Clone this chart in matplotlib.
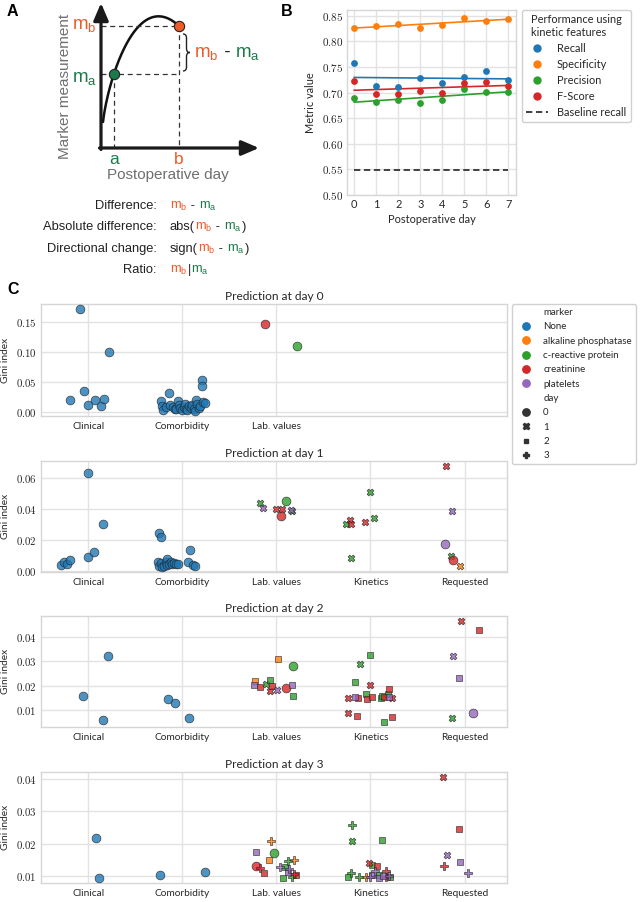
import numpy as np
import matplotlib
matplotlib.use("Agg")
import matplotlib.pyplot as plt
from matplotlib.lines import Line2D
from matplotlib.path import Path
from matplotlib.patches import PathPatch
from matplotlib.ticker import FuncFormatter, MultipleLocator

plt.rcParams["mathtext.fontset"] = "cm"
plt.rcParams["font.family"] = ["Lato", "DejaVu Sans"]

# ---------------- panel B data ----------------
post_days = [0, 1, 2, 3, 4, 5, 6, 7]
recall = [0.758, 0.712, 0.710, 0.729, 0.718, 0.731, 0.741, 0.725]
specificity = [0.826, 0.830, 0.834, 0.825, 0.832, 0.846, 0.839, 0.843]
precision = [0.690, 0.681, 0.686, 0.679, 0.686, 0.706, 0.701, 0.701]
f_score = [0.723, 0.697, 0.697, 0.703, 0.700, 0.719, 0.721, 0.713]
baseline_recall = 0.548

# ---------------- panel C data ----------------
categories = ["Clinical", "Comorbidity", "Lab. values", "Kinetics", "Requested"]
cat_code = {"c": 0, "m": 1, "l": 2, "k": 3, "r": 4}
marker_names = ["None", "alkaline phosphatase", "c-reactive protein",
                "creatinine", "platelets"]
marker_code = {"N": 0, "A": 1, "C": 2, "R": 3, "P": 4}
day_levels = [0, 1, 2, 3]

# code = category letter + marker letter + day of the measurement
p0_code = ["cN0"] * 8 + ["mN0"] * 30 + ["lR0", "lC0"]
p0_gini = [0.171, 0.100, 0.0197, 0.036, 0.0118, 0.0202, 0.0107, 0.0225,
           0.018, 0.0107, 0.0034, 0.009, 0.032, 0.0124, 0.0079, 0.0051, 0.0051, 0.018,
           0.0112, 0.0062, 0.0034, 0.0079, 0.0135, 0.0056, 0.0034, 0.0096, 0.0062, 0.0118,
           0.0056, 0.0022, 0.0197, 0.0135, 0.0062, 0.0107, 0.0528, 0.0427, 0.0163, 0.0146,
           0.1455, 0.1096]
p0_jit = [-0.085, 0.220, -0.195, -0.042, 0.000, 0.078, 0.142, 0.170,
          -0.223, -0.220, -0.202, -0.170, -0.142, -0.131, -0.103, -0.081, -0.064, -0.046,
          -0.035, -0.025, -0.007, 0.014, 0.028, 0.042, 0.053, 0.071, 0.089, 0.106,
          0.120, 0.135, 0.142, 0.159, 0.177, 0.191, 0.212, 0.212, 0.223, 0.241,
          -0.124, 0.220]

p1_code = (["cN0"] * 8 + ["mN0"] * 20
           + ["lC1", "lP1", "lR1", "lR1", "lR0", "lC0", "lP1", "lC1"]
           + ["kC1", "kC1", "kR1", "kR1", "kC1", "kR1", "kC1"]
           + ["rR1", "rP1", "rP0", "rC1", "rR0", "rA1"])
p1_gini = [0.0039, 0.006, 0.0047, 0.0069, 0.063, 0.0088, 0.0122, 0.0302,
           0.0244, 0.0221, 0.0137, 0.0056, 0.0039, 0.003, 0.0058, 0.003, 0.0051, 0.0026,
           0.0034, 0.0056, 0.0077, 0.0036, 0.0047, 0.0058, 0.0043, 0.0051, 0.0043, 0.0047,
           0.0439, 0.0407, 0.0401, 0.0401, 0.0356, 0.0448, 0.039, 0.0386,
           0.0508, 0.0343, 0.0328, 0.030, 0.030, 0.0315, 0.0081,
           0.0675, 0.0386, 0.0176, 0.0096, 0.0071, 0.003]
p1_jit = [-0.290, -0.259, -0.223, -0.195, 0.004, -0.004, 0.060, 0.156,
          -0.251, -0.223, 0.078, 0.057, 0.110, 0.135, -0.262, -0.248, -0.230, -0.220,
          -0.195, -0.177, -0.159, -0.159, -0.142, -0.120, -0.106, -0.089, -0.071, -0.050,
          -0.170, -0.145, -0.007, 0.057, 0.046, 0.106, 0.156, 0.166,
          -0.004, 0.032, -0.220, -0.209, -0.255, -0.060, -0.202,
          -0.195, -0.138, -0.212, -0.145, -0.127, -0.053]

p2_code = (["cN0"] * 3 + ["mN0"] * 3
           + ["lA2", "lP2", "lR2", "lC1", "lC2", "lA2", "lR1", "lR2", "lP1", "lR0",
              "lC0", "lP2", "lC2"]
           + ["kC2", "kC1", "kC2", "kR1", "kR2", "kR1", "kP2", "kR2", "kC2", "kR2",
              "kR2", "kC2", "kC2", "kR2", "kC2", "kP2", "kR1", "kR1", "kR2", "kC2", "kR2"]
           + ["rR1", "rR2", "rP1", "rP2", "rC1", "rP0"])
p2_gini = [0.0159, 0.032, 0.0062,
           0.0146, 0.013, 0.007,
           0.022, 0.0204, 0.0197, 0.0209, 0.0223, 0.0309, 0.0178, 0.020, 0.0182, 0.0191,
           0.0283, 0.0202, 0.0157,
           0.0328, 0.029, 0.0216, 0.0204, 0.0185, 0.015, 0.0155, 0.0148, 0.0167, 0.0146,
           0.0153, 0.015, 0.0159, 0.0155, 0.0167, 0.0155, 0.0148, 0.0089, 0.0078, 0.0052, 0.0073,
           0.0465, 0.0427, 0.032, 0.023, 0.0069, 0.0089]
p2_jit = [-0.050, 0.209, 0.156,
          -0.152, -0.074, 0.067,
          -0.230, -0.241, -0.174, -0.113, -0.071, 0.014, -0.067, -0.050, 0.011, 0.099,
          0.177, 0.163, 0.177,
          -0.007, -0.113, -0.163, 0.000, 0.198, -0.244, -0.166, -0.131, -0.050, -0.042,
          0.011, 0.110, 0.127, 0.145, 0.181, 0.195, 0.230, -0.241, -0.142, 0.145, 0.227,
          -0.042, 0.156, -0.120, -0.064, -0.131, 0.092]

p3_code = (["cN0"] * 2 + ["mN0"] * 2
           + ["lA3", "lP2", "lC0", "lA2", "lC3", "lA3", "lR0", "lR3", "lP3", "lC2",
              "lP3", "lP2", "lR2", "lR3", "lC2", "lC3", "lR2"]
           + ["kC3", "kC1", "kC2", "kR1", "kC2", "kR2", "kP3", "kR3", "kC3", "kC2",
              "kC3", "kA3", "kP3", "kP2", "kC2", "kP2", "kP2", "kR3", "kC2", "kP3"]
           + ["rR1", "rR2", "rP1", "rP2", "rR3", "rP3"])
p3_gini = [0.0219, 0.0095,
           0.0104, 0.0113,
           0.0208, 0.0174, 0.0173, 0.0151, 0.0147, 0.015, 0.0132, 0.0126, 0.013, 0.013,
           0.0123, 0.0112, 0.011, 0.0107, 0.0095, 0.0097, 0.0104,
           0.0257, 0.0207, 0.0212, 0.0141, 0.0135, 0.0132, 0.0117, 0.0115, 0.0111, 0.0097,
           0.0097, 0.0097, 0.0097, 0.0104, 0.0104, 0.0095, 0.0101, 0.0097, 0.0097, 0.0102,
           0.0405, 0.0246, 0.0164, 0.0145, 0.0131, 0.0109]
p3_jit = [0.089, 0.113,
          -0.241, 0.237,
          -0.053, -0.220, -0.021, -0.074, 0.124, 0.184, -0.220, -0.177, 0.035, 0.089,
          0.135, 0.120, -0.135, 0.191, 0.067, 0.163, 0.205,
          -0.198, -0.198, 0.127, -0.014, 0.021, 0.067, 0.046, 0.166, -0.212, -0.237,
          -0.124, -0.050, -0.007, 0.018, 0.092, 0.089, 0.135, 0.166, 0.212, 0.195,
          -0.234, -0.064, -0.191, -0.053, -0.216, 0.035]

panels_c = [(p0_code, p0_gini, p0_jit), (p1_code, p1_gini, p1_jit),
            (p2_code, p2_gini, p2_jit), (p3_code, p3_gini, p3_jit)]
for c, g, j in panels_c:
    assert len(c) == len(g) == len(j)

# ---------------- figure ----------------
W, H = 641, 902
fig = plt.figure(figsize=(W / 100, H / 100), dpi=100)
TXT = "0.15"
ORANGE = "#ee5a28"
GREEN = "#1b7a4a"
GRAYTXT = "#6f6f6f"
DARK = "#222222"
tab = ["#1f77b4", "#ff7f0e", "#2ca02c", "#d62728", "#9467bd"]


def px_axes(x0, y0, x1, y1):
    return fig.add_axes([x0 / W, 1 - y1 / H, (x1 - x0) / W, (y1 - y0) / H])


def rich(ax, x, y, pieces, size, ha="left"):
    # several coloured pieces on one baseline
    rend = fig.canvas.get_renderer()
    objs = [ax.text(0, y, s, color=c, fontsize=size, family="Liberation Sans",
                    va="baseline", ha="left") for s, c in pieces]
    widths = [t.get_window_extent(rend).width for t in objs]
    cur = x - sum(widths) if ha == "right" else x
    for t, w in zip(objs, widths):
        t.set_x(cur)
        cur += w


def style_axes(ax):
    for sp in ax.spines.values():
        sp.set_color("#d6d6d6")
        sp.set_linewidth(1.0)
    ax.grid(True, color="#e2e2e2", lw=1.0)
    ax.set_axisbelow(True)
    ax.tick_params(length=0, pad=3, colors=TXT)


math_fmt = FuncFormatter(lambda v, p: f"${v:.2f}$")

# ---------------- panel A (schematic) ----------------
axA = px_axes(0, 0, 300, 280)
axA.set_xlim(0, 300)
axA.set_ylim(280, 0)
axA.axis("off")

t = np.linspace(0, 1, 300)
P = np.array([[103, 122], [107, 85], [135, -15], [179, 26]], float)
bez = ((1 - t) ** 3)[:, None] * P[0] + (3 * (1 - t) ** 2 * t)[:, None] * P[1] \
    + (3 * (1 - t) * t ** 2)[:, None] * P[2] + (t ** 3)[:, None] * P[3]
axA.plot(bez[:, 0], bez[:, 1], color="#111111", lw=1.8, solid_capstyle="round")
xa, xb = 114, 179
ya = np.interp(xa, bez[:, 0], bez[:, 1])
yb = bez[-1, 1]
base_y = 148
dash = dict(color="#333333", lw=0.9, ls=(0, (4, 3)))
axA.plot([101, xb], [yb, yb], **dash)
axA.plot([101, xb], [ya, ya], **dash)
axA.plot([xa, xa], [ya, base_y], **dash)
axA.plot([xb, xb], [yb, base_y], **dash)
arrow = dict(arrowstyle="-|>,head_length=0.7,head_width=0.3", lw=2.3,
             color="#1a1a1a", shrinkA=0, shrinkB=0, mutation_scale=15)
axA.annotate("", xy=(101, 3), xytext=(101, base_y + 1.5), arrowprops=arrow)
axA.annotate("", xy=(259, base_y), xytext=(99.5, base_y), arrowprops=arrow)
axA.scatter([xa], [ya], s=55, color=GREEN, edgecolor=DARK, lw=0.8, zorder=5)
axA.scatter([xb], [yb], s=55, color=ORANGE, edgecolor=DARK, lw=0.8, zorder=5)

# curly brace
bx, by0, by1, bw, br = 183, 34, 71, 7, 4
bym = (by0 + by1) / 2
verts = [(bx, by0), (bx + bw / 2, by0), (bx + bw / 2, by0 + br),
         (bx + bw / 2, bym - br), (bx + bw / 2, bym), (bx + bw, bym),
         (bx + bw / 2, bym), (bx + bw / 2, bym + br),
         (bx + bw / 2, by1 - br), (bx + bw / 2, by1), (bx, by1)]
codes = [Path.MOVETO, Path.CURVE3, Path.CURVE3, Path.LINETO, Path.CURVE3, Path.CURVE3,
         Path.CURVE3, Path.CURVE3, Path.LINETO, Path.CURVE3, Path.CURVE3]
axA.add_patch(PathPatch(Path(verts, codes), fill=False, lw=1.0, ec=DARK))

mb = (r"$\mathregular{m_b}$", ORANGE)
ma = (r"$\mathregular{m_a}$", GREEN)
mi = (" - ", DARK)
rich(axA, 97, 29, [mb], 13.5, ha="right")
rich(axA, 97, 82, [ma], 13.5, ha="right")
rich(axA, 194, 57, [mb, mi, ma], 13.5)
axA.text(xa, 164.5, "a", color=GREEN, fontsize=12.5, family="Liberation Sans",
         ha="center", va="baseline")
axA.text(xb, 164.5, "b", color=ORANGE, fontsize=12.5, family="Liberation Sans",
         ha="center", va="baseline")
axA.text(65, 86, "Marker measurement", rotation=90, color=GRAYTXT, fontsize=11,
         family="Liberation Sans", ha="center", va="center")
axA.text(168, 179, "Postoperative day", color=GRAYTXT, fontsize=11,
         family="Liberation Sans", ha="center", va="baseline")

row_labels = ["Difference:", "Absolute difference:", "Directional change:", "Ratio:"]
row_exprs = [[mb, mi, ma],
             [("abs(", DARK), mb, mi, ma, (")", DARK)],
             [("sign(", DARK), mb, mi, ma, (")", DARK)],
             [mb, ("|", DARK), ma]]
for i, (lab, expr) in enumerate(zip(row_labels, row_exprs)):
    yy = 209 + i * 21.4
    axA.text(157, yy, lab, color=DARK, fontsize=9.3, family="Liberation Sans",
             ha="right", va="baseline")
    rich(axA, 170, yy, expr, 9.3)

# ---------------- panel B ----------------
axB = px_axes(347, 10, 516, 195)
style_axes(axB)
series = [("Recall", recall, tab[0]), ("Specificity", specificity, tab[1]),
          ("Precision", precision, tab[2]), ("F-Score", f_score, tab[3])]
handles = []
for name, vals, col in series:
    axB.scatter(post_days, vals, s=24, color=col, zorder=3, lw=0)
    k, b0 = np.polyfit(post_days, vals, 1)
    xs = np.array([post_days[0], post_days[-1]])
    axB.plot(xs, k * xs + b0, color=col, lw=1.2, zorder=2)
    handles.append(Line2D([], [], ls="", marker="o", markersize=5, color=col, label=name))
axB.plot([post_days[0], post_days[-1]], [baseline_recall] * 2, color="#333333",
         lw=1.3, ls=(0, (3.5, 2)))
handles.append(Line2D([], [], color="#333333", lw=1.3, ls=(0, (3.5, 2)),
                      label="Baseline recall"))
axB.set_ylim(0.5, 0.861)
axB.set_xlim(-0.33, 7.35)
axB.yaxis.set_major_locator(MultipleLocator(0.05))
axB.yaxis.set_major_formatter(math_fmt)
axB.set_xticks(post_days)
axB.tick_params(axis="y", labelsize=8)
axB.tick_params(axis="x", labelsize=7.9)
axB.set_xlabel("Postoperative day", fontsize=7.9, color=TXT, labelpad=3)
axB.set_ylabel("Metric value", fontsize=7.9, color=TXT, labelpad=4)
legB = axB.legend(handles=handles, title="Performance using\nkinetic features",
                  loc="upper left", bbox_to_anchor=(1.035, 1.0), borderaxespad=0,
                  fontsize=7.9, title_fontsize=7.9, labelspacing=0.45,
                  handlelength=2.0, handletextpad=0.8, frameon=True,
                  edgecolor="#d0d0d0", framealpha=1)
legB.get_title().set_color(TXT)
for tx in legB.get_texts():
    tx.set_color(TXT)

# ---------------- panel C ----------------
day_marker = {0: "o", 1: "X", 2: (4, 0, 45), 3: "P"}
day_size = {0: 40, 1: 24, 2: 30, 3: 26}
ax_rows = [(304, 416), (461, 572), (616, 727), (772, 883)]
steps = [0.05, 0.02, 0.01, 0.01]
axes_c = []
for i, ((y0, y1), (codes_, gini, jit)) in enumerate(zip(ax_rows, panels_c)):
    ax = px_axes(41, y0, 507, y1)
    style_axes(ax)
    axes_c.append(ax)
    groups = {}
    for code, g, j in zip(codes_, gini, jit):
        key = (marker_code[code[1]], int(code[2]))
        groups.setdefault(key, ([], []))
        groups[key][0].append(cat_code[code[0]] + j)
        groups[key][1].append(g)
    for (mk, d), (xs, ys) in sorted(groups.items()):
        ax.scatter(xs, ys, s=day_size[d], marker=day_marker[d], color=tab[mk],
                   alpha=0.8, edgecolor=DARK, linewidth=0.5, zorder=3)
    ncat = 3 if i == 0 else 5
    ax.set_xticks(range(ncat))
    ax.set_xticklabels(categories[:ncat], fontsize=7.3)
    ax.set_xlim(-0.5, 4.45)
    ax.yaxis.set_major_locator(MultipleLocator(steps[i]))
    ax.yaxis.set_major_formatter(math_fmt)
    ax.tick_params(axis="y", labelsize=7.8)
    ax.tick_params(axis="x", pad=4)
    ax.set_ylabel("Gini index", fontsize=7.3, color=TXT, labelpad=4)
    ax.set_title(f"Prediction at day {i}", fontsize=8.6, color=TXT, pad=2.6)

hC, lC = [], []
hC.append(Line2D([], [], ls="", marker=None)); lC.append("marker")
for name, col in zip(marker_names, tab):
    hC.append(Line2D([], [], ls="", marker="o", markersize=5.3, color=col))
    lC.append(name)
hC.append(Line2D([], [], ls="", marker=None)); lC.append("day")
for d in day_levels:
    hC.append(Line2D([], [], ls="", marker=day_marker[d],
                     markersize=5.3 if d == 0 else 5, color="#333333"))
    lC.append(str(d))
legC = axes_c[0].legend(hC, lC, loc="upper left", bbox_to_anchor=(1.011, 1.0),
                        borderaxespad=0, fontsize=7.0, labelspacing=0.55,
                        handlelength=2.0, handletextpad=0.8, frameon=True,
                        edgecolor="#d0d0d0", framealpha=1)
for tx in legC.get_texts():
    tx.set_color(TXT)

# panel letters
for letter, (x, y) in {"A": (7, 4), "B": (281, 4), "C": (7, 282)}.items():
    fig.text(x / W, 1 - y / H, letter, fontsize=11.5, fontweight="bold",
             family="Liberation Sans", va="top", ha="left")

fig.savefig("out.png", dpi=100)
